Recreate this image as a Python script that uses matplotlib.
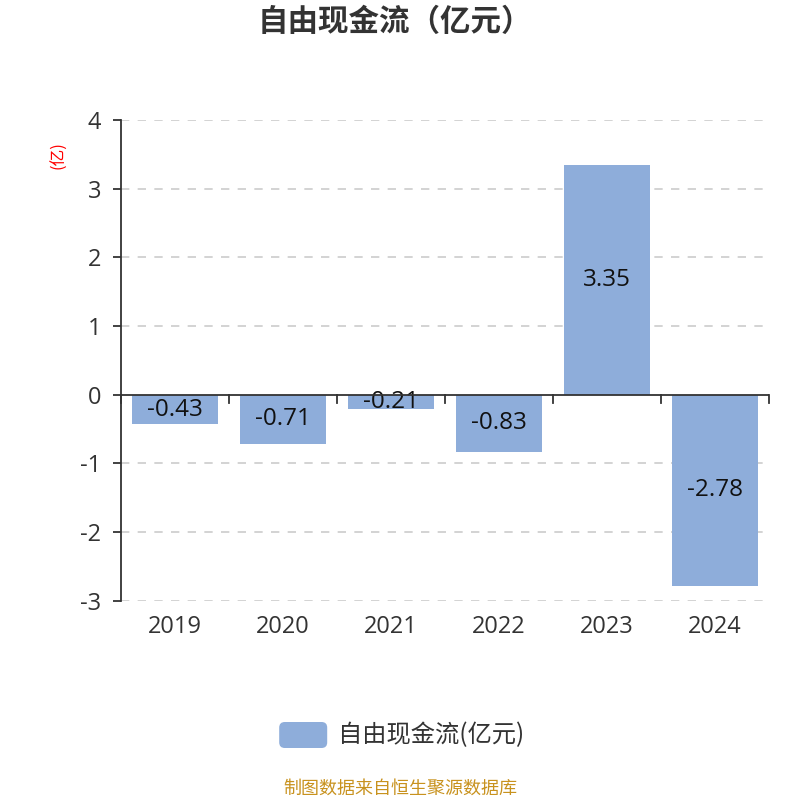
import matplotlib
matplotlib.use("Agg")
import matplotlib.pyplot as plt
import numpy as np
from matplotlib.patches import FancyBboxPatch

plt.rcParams['font.family'] = ['Noto Sans CJK SC', 'DejaVu Sans']
num_font = ['Open Sans', 'Noto Sans CJK SC']

years = ["2019", "2020", "2021", "2022", "2023", "2024"]
values = [-0.43, -0.71, -0.21, -0.83, 3.35, -2.78]
yticks = [-3, -2, -1, 0, 1, 2, 3, 4]

bar_color = "#8EADDA"
text_color = "#333333"

fig = plt.figure(figsize=(8, 8), dpi=100)
ax = fig.add_axes([0.151, 0.249, 0.81, 0.601])

x = np.arange(len(years))
ax.bar(x, values, width=0.8, color=bar_color, zorder=2)
for xi, v in zip(x, values):
    ax.text(xi, v / 2, f"{v:.2f}", ha="center", va="center", fontsize=17.5,
            family=num_font, color="#111111", zorder=3)

ax.set_xlim(-0.5, len(years) - 0.5)
ax.set_ylim(-3, 4)
ax.set_yticks(yticks)
ax.set_yticklabels([str(t) for t in yticks], fontsize=17, color=text_color, family=num_font)
ax.set_xticks([])
for yt in yticks:
    if yt != 0:
        ax.axhline(yt, color="#cccccc", lw=1.2, ls=(0, (5, 5)), zorder=1)

# zero axis with boundary ticks
ax.axhline(0, color="#333333", lw=1.3, zorder=4)
for b in np.arange(-0.5, len(years), 1.0):
    ax.plot([b, b], [0, -0.12], color="#333333", lw=1.3, zorder=4, clip_on=False)
for xi, yr in zip(x, years):
    ax.text(xi, -3.21, yr, ha="center", va="top", fontsize=17, color=text_color, family=num_font)

for s in ["top", "right", "bottom"]:
    ax.spines[s].set_visible(False)
ax.spines["left"].set_color("#333333")
ax.spines["left"].set_linewidth(1.3)
ax.tick_params(axis="y", length=6, width=1.3, color="#333333", pad=8)

fig.text(0.074, 0.806, "(亿)", rotation=90, color="red", fontsize=12, ha="center", va="center")
fig.text(0.493, 0.972, "自由现金流（亿元）", ha="center", va="center", fontsize=22,
         fontweight="bold", color=text_color)

# legend
leg_patch = FancyBboxPatch((0.349, 0.065), 0.06, 0.0325, boxstyle="round,pad=0,rounding_size=0.007",
                           transform=fig.transFigure, facecolor=bar_color, edgecolor="none")
fig.patches.append(leg_patch)
fig.text(0.423, 0.0812, "自由现金流(亿元)", ha="left", va="center", fontsize=17.5, color=text_color)

fig.text(0.5, 0.014, "制图数据来自恒生聚源数据库", ha="center", va="center", fontsize=13, color="#C8921E")

fig.savefig("out.png", dpi=100)
